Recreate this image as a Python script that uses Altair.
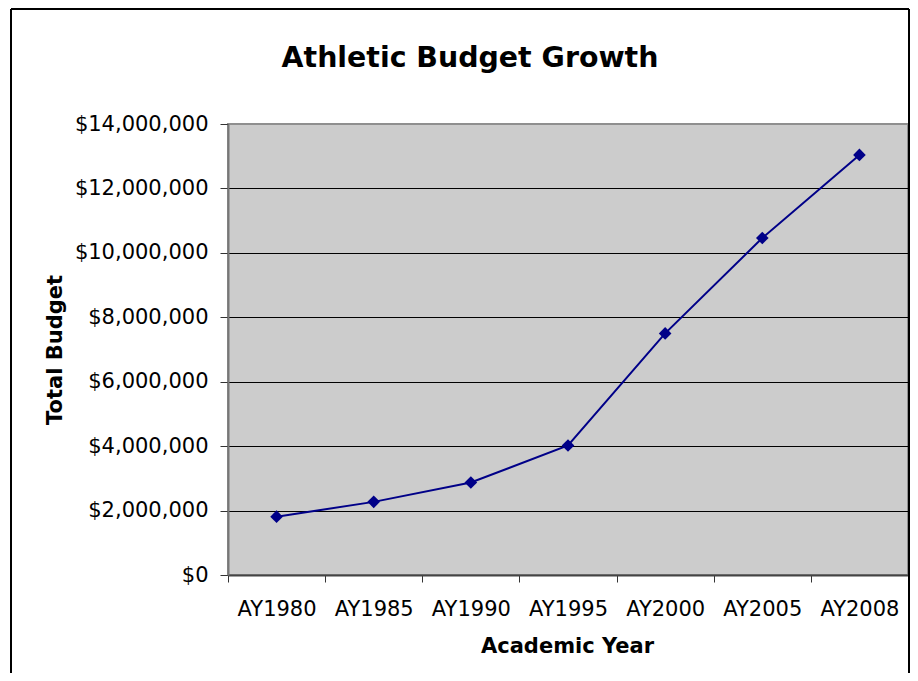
import altair as alt
import pandas as pd

years = ["AY1980", "AY1985", "AY1990", "AY1995", "AY2000", "AY2005", "AY2008"]
budget = [1810000, 2270000, 2870000, 4020000, 7500000, 10460000, 13040000]
y_ticks = [0, 2000000, 4000000, 6000000, 8000000, 10000000, 12000000, 14000000]
chart_title = "Athletic Budget Growth"

df = pd.DataFrame({"year": years, "budget": budget})

FONT = "DejaVu Sans"
NAVY = "#000088"

x_enc = alt.X(
    "year:O",
    sort=None,
    scale=alt.Scale(type="band", paddingInner=0, paddingOuter=0),
    axis=alt.Axis(
        title="Academic Year",
        labelAngle=0,
        labelFont=FONT,
        labelFontSize=21,
        labelColor="black",
        labelBaseline="alphabetic",
        labelPadding=33,
        tickBand="extent",
        tickSize=7,
        tickColor="#333333",
        tickWidth=1,
        domainColor="#444444",
        domainWidth=2,
        grid=False,
        titleFont=FONT,
        titleFontSize=21,
        titleFontWeight="bold",
        titleColor="black",
        titleBaseline="alphabetic",
        titleY=77,
        titleX=339,
    ),
)

y_enc = alt.Y(
    "budget:Q",
    scale=alt.Scale(domain=[0, 14000000], nice=False, zero=True),
    axis=alt.Axis(
        title="Total Budget",
        values=y_ticks,
        format="$,.0f",
        labelFont=FONT,
        labelFontSize=21,
        labelColor="black",
        labelBaseline="middle",
        labelPadding=12,
        tickSize=8,
        tickColor="#333333",
        tickWidth=1,
        domainColor="#777777",
        domainWidth=2,
        gridColor="black",
        gridWidth=1,
        gridOpacity={"condition": {"test": "datum.value >= 14000000 || datum.value <= 0", "value": 0}, "value": 1},
        titleFont=FONT,
        titleFontSize=21,
        titleFontWeight="bold",
        titleColor="black",
        titleBaseline="alphabetic",
        titleAngle=270,
        titleAlign="center",
        titleX=-167,
        titleY=225.5,
    ),
)

base = alt.Chart(df)

line = base.mark_line(color=NAVY, strokeWidth=2).encode(x=x_enc, y=y_enc)
points = base.mark_point(shape="diamond", filled=True, size=160, color=NAVY, opacity=1).encode(x=x_enc, y=y_enc)

frame_data = alt.Data(values=[{"k": 1}])
left_rule = alt.Chart(frame_data).mark_rule(color="black", strokeWidth=2).encode(
    x=alt.value(-217), y=alt.value(-115), y2=alt.value(570)
)
top_rule = alt.Chart(frame_data).mark_rule(color="black", strokeWidth=2).encode(
    x=alt.value(-217), x2=alt.value(681), y=alt.value(-115)
)
right_rule = alt.Chart(frame_data).mark_rule(color="black", strokeWidth=2).encode(
    x=alt.value(681), y=alt.value(-115), y2=alt.value(570)
)

title_data = alt.Data(values=[{"t": chart_title}])
title_text = alt.Chart(title_data).mark_text(
    font=FONT, fontSize=28.4, fontWeight="bold", color="black",
    align="center", baseline="alphabetic",
).encode(text="t:N", x=alt.value(242), y=alt.value(-57))

chart = (
    alt.layer(line, points, left_rule, top_rule, right_rule, title_text)
    .properties(
        width=680,
        height=451,
        padding={"left": 220, "top": 116, "right": 2, "bottom": 98},
        autosize=alt.AutoSizeParams(type="none"),
        background="white",
    )
    .configure_view(fill="#CCCCCC", stroke="#8f8f8f", strokeWidth=2)
)

chart.save("out.html", embed_options={"renderer": "svg", "actions": False})
